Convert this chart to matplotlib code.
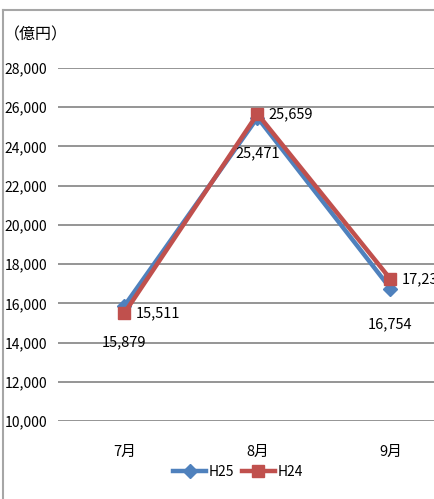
import matplotlib
matplotlib.use("Agg")
import matplotlib.pyplot as plt
from matplotlib.lines import Line2D
from matplotlib.ticker import FuncFormatter

plt.rcParams['font.family'] = ['Liberation Sans Narrow', 'Noto Sans CJK JP', 'DejaVu Sans']

months = ['7月', '8月', '9月']
h25 = [15879, 25471, 16754]
h24 = [15511, 25659, 17232]
h25_labels = ['15,879', '25,471', '16,754']
h24_labels = ['15,511', '25,659', '17,232']
yticks = list(range(10000, 28001, 2000))

blue = '#4F81BD'
red = '#C0504D'

fig = plt.figure(figsize=(4.35, 4.99), dpi=100)
ax = fig.add_axes([58 / 435, 1 - 421 / 499, 399 / 435, 353 / 499])

x = list(range(len(months)))
ax.plot(x, h25, color=blue, lw=3.2, marker='D', ms=7, label='H25', zorder=3)
ax.plot(x, h24, color=red, lw=3.2, marker='s', ms=8.5, label='H24', zorder=4)

for xi, v, t in zip(x, h25, h25_labels):
    ax.annotate(t, (xi, v), xytext=(0, -26), textcoords='offset points',
                ha='center', va='center', fontsize=10.5)
for xi, v, t in zip(x, h24, h24_labels):
    ax.annotate(t, (xi, v), xytext=(8, 0), textcoords='offset points',
                ha='left', va='center', fontsize=10.5, annotation_clip=False)

ax.set_xlim(-0.5, 2.5)
ax.set_ylim(10000, 28000)
ax.set_yticks(yticks)
ax.yaxis.set_major_formatter(FuncFormatter(lambda v, p: f'{int(v):,}'))
ax.set_xticks(x)
ax.set_xticklabels(months)
ax.tick_params(length=0, labelsize=10)
ax.tick_params(axis='y', pad=8)
ax.tick_params(axis='x', pad=17, labelsize=10.5)
ax.grid(axis='y', color='#8c8c8c', lw=1.3)
ax.set_axisbelow(True)
for s in ax.spines.values():
    s.set_visible(False)

fig.text(4 / 435, 1 - 35 / 499, '（億円）', fontsize=11.5, va='center', ha='left',
         family=['Noto Sans CJK JP', 'DejaVu Sans'])

fig.legend(loc='center', bbox_to_anchor=(238 / 435, 1 - 472 / 499), ncol=2,
           frameon=False, fontsize=10, handlelength=2.4, columnspacing=0.5,
           handletextpad=0.2)

# outer chart frame (cropped on right and bottom)
fig.add_artist(Line2D([3 / 435, 3 / 435], [0, 1 - 10 / 499], transform=fig.transFigure,
                      color='#a6a6a6', lw=1.5))
fig.add_artist(Line2D([3 / 435, 1], [1 - 10 / 499, 1 - 10 / 499], transform=fig.transFigure,
                      color='#a6a6a6', lw=1.5))

fig.savefig('out.png', dpi=100)
